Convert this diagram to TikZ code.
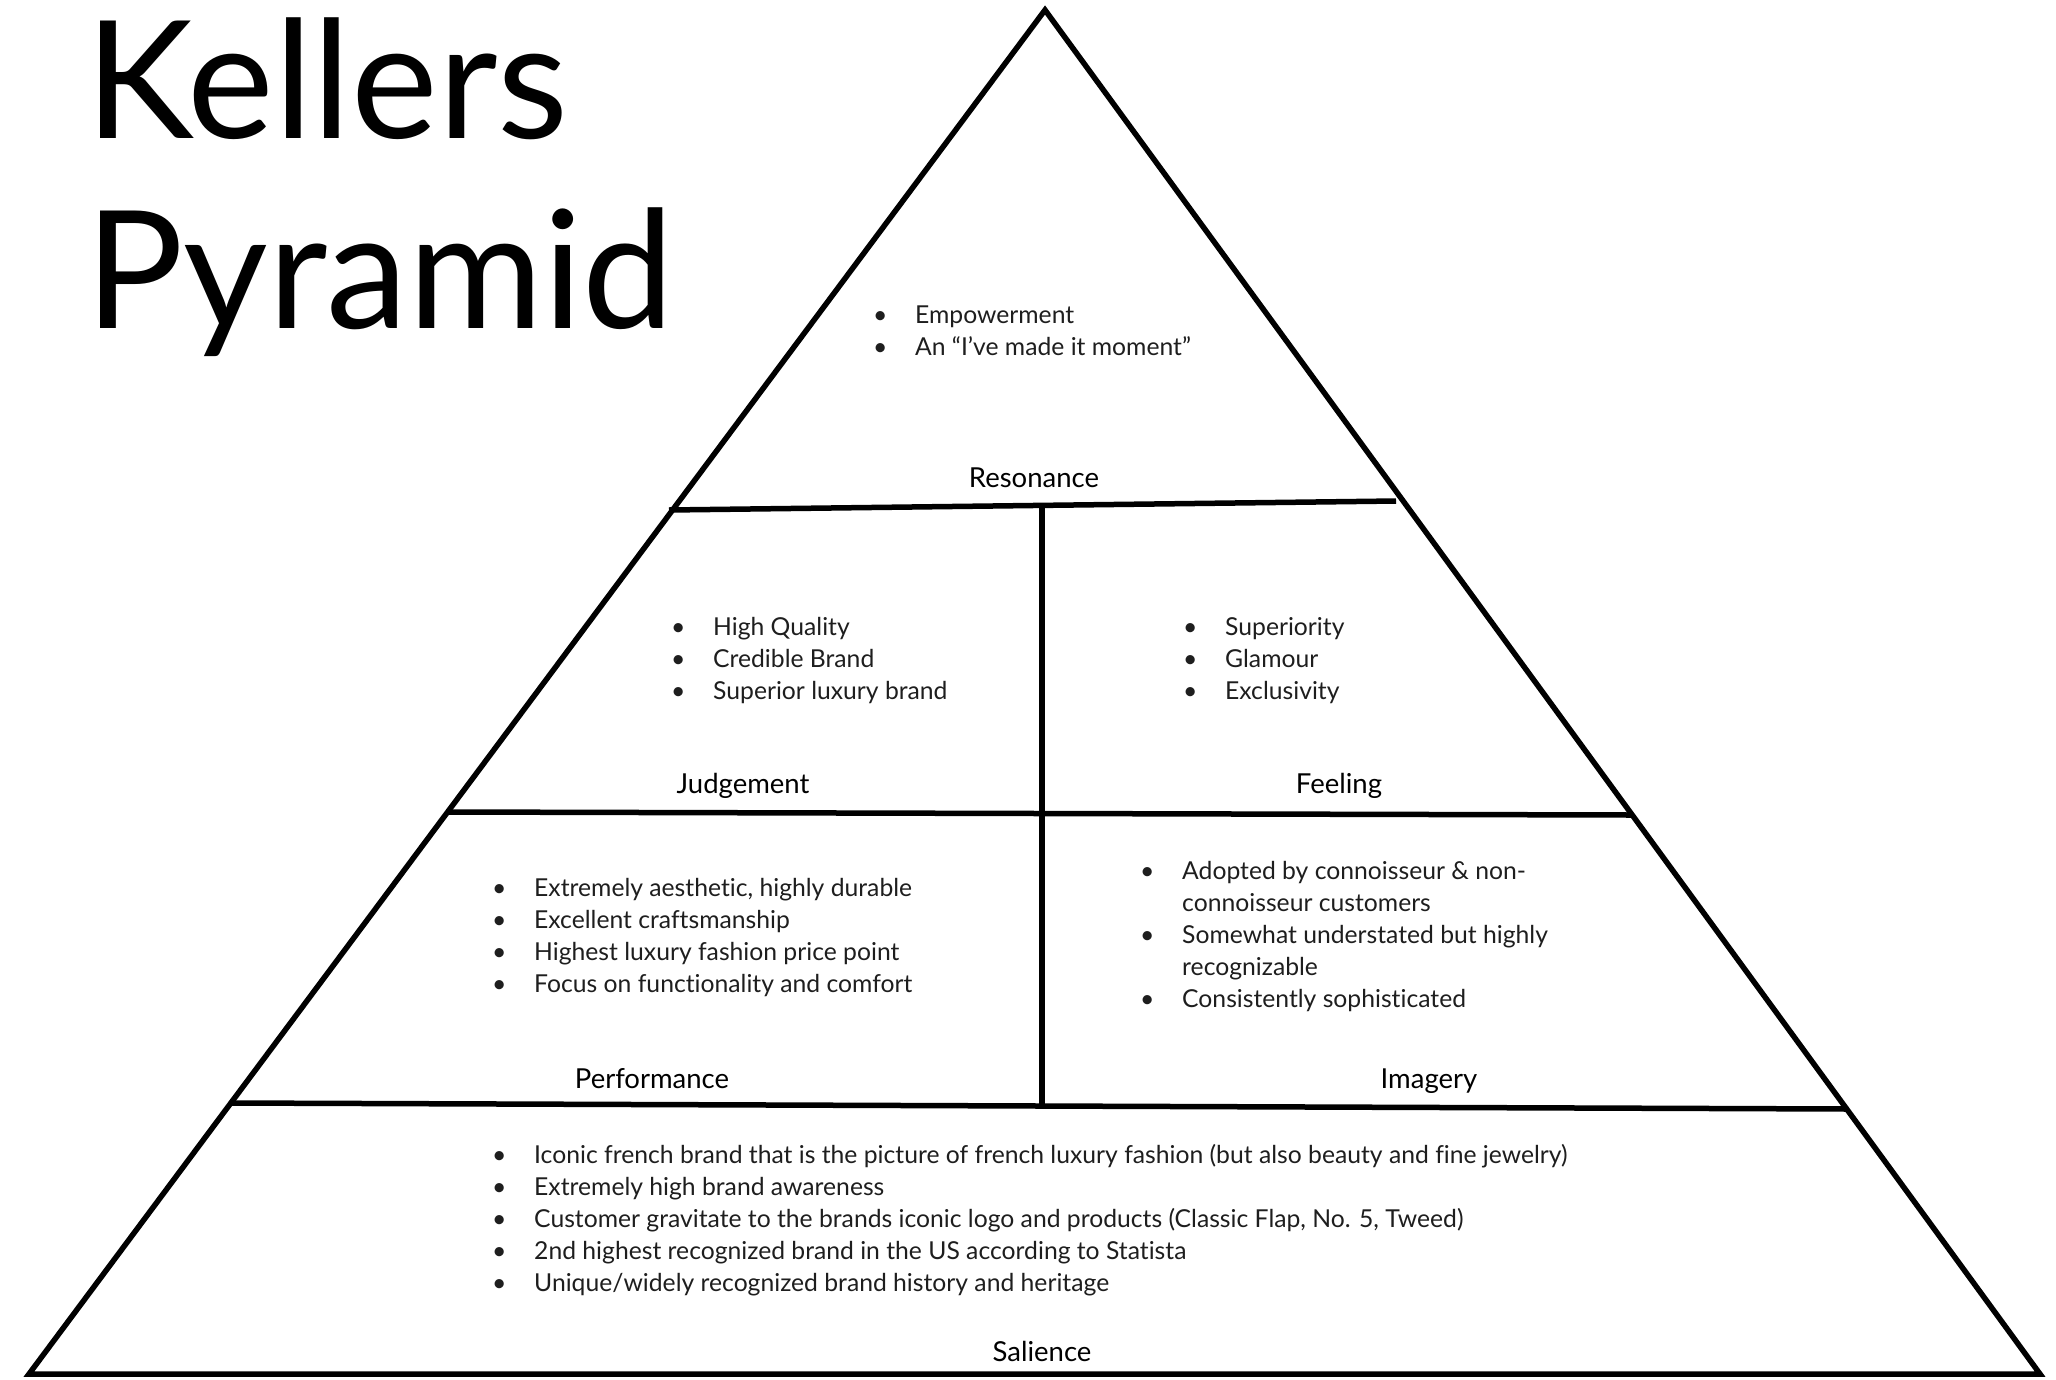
\documentclass[tikz,border=0pt]{standalone}
\usepackage{fontspec}
\setmainfont{Lato}[Ligatures=NoCommon]
\definecolor{ink}{HTML}{1E1E1E}
\newcommand{\bl}{\makebox[42pt][l]{\textbullet}}
\newcommand{\nb}{\makebox[42pt][l]{}}
\begin{document}
\begin{tikzpicture}[x=1pt,y=-1pt,
  edge/.style={line width=5.5pt, line join=miter},
  divider/.style={line width=5.5pt, line cap=butt},
  body/.style={anchor=base west, inner sep=0pt, text=ink, font=\fontsize{24.7}{30}\selectfont},
  tier/.style={anchor=base, inner sep=0pt, text=black, font=\fontsize{27.5}{30}\selectfont},
  title/.style={anchor=base west, inner sep=0pt, font=\fontsize{164}{190}\selectfont}
]
\useasboundingbox (0,0) rectangle (2056,1379);

% outline of the pyramid
\coordinate (apex) at (1045,10);
\coordinate (bl) at (29,1374);
\coordinate (br) at (2040,1374);
\draw[edge] (bl) -- (apex) -- (br) -- cycle;

% tier dividers
\coordinate (r1) at (669,510);
\coordinate (r2) at (1396,501);
\coordinate (j1) at (446,812);
\coordinate (j2) at (1631,815);
\coordinate (p1) at (231,1103);
\coordinate (p2) at (1848,1109);
\coordinate (v1) at (1042,506);
\coordinate (v2) at (1042,1106);
\draw[divider] (r1) -- (r2);
\draw[divider] (j1) -- (j2);
\draw[divider] (p1) -- (p2);
\draw[divider] (v1) -- (v2);

% title
\node[title] (t1) at (85,138) {Kellers};
\node[title] (t2) at (85,328) {Pyramid};

% tier names
\node[tier] (resonance) at (1034,487) {Resonance};
\node[tier] (judgement) at (743,793) {Judgement};
\node[tier] (feeling) at (1339,793) {Feeling};
\node[tier] (performance) at (652,1088) {Performance};
\node[tier] (imagery) at (1429,1088) {Imagery};
\node[tier] (salience) at (1042,1361) {Salience};

% resonance
\foreach \t [count=\i] in {{Empowerment},{An “I’ve made it moment”}}
  \node[body] (res\i) at (873,{323+32.5*(\i-1)}) {\bl\t};

% judgement
\foreach \t [count=\i] in {{High Quality},{Credible Brand},{Superior luxury brand}}
  \node[body] (jud\i) at (671,{635+32*(\i-1)}) {\bl\t};

% feeling
\foreach \t [count=\i] in {{Superiority},{Glamour},{Exclusivity}}
  \node[body] (fee\i) at (1183,{635+32*(\i-1)}) {\bl\t};

% performance
\foreach \t [count=\i] in {{Extremely aesthetic, highly durable},{Excellent craftsmanship},{Highest luxury fashion price point},{Focus on functionality and comfort}}
  \node[body] (per\i) at (492,{896+32*(\i-1)}) {\bl\t};

% imagery
\node[body] (ima1) at (1140,879) {\bl Adopted by connoisseur \& non-};
\node[body] (ima2) at (1140,911) {\nb connoisseur customers};
\node[body] (ima3) at (1140,943) {\bl Somewhat understated but highly};
\node[body] (ima4) at (1140,975) {\nb recognizable};
\node[body] (ima5) at (1140,1007) {\bl Consistently sophisticated};

% salience
\foreach \t [count=\i] in {{Iconic french brand that is the picture of french luxury fashion (but also beauty and fine jewelry)},{Extremely high brand awareness},{Customer gravitate to the brands iconic logo and products (Classic Flap, No. 5, Tweed)},{2nd highest recognized brand in the US according to Statista},{Unique/widely recognized brand history and heritage}}
  \node[body] (sal\i) at (492,{1163+32*(\i-1)}) {\bl\t};
\end{tikzpicture}
\end{document}
